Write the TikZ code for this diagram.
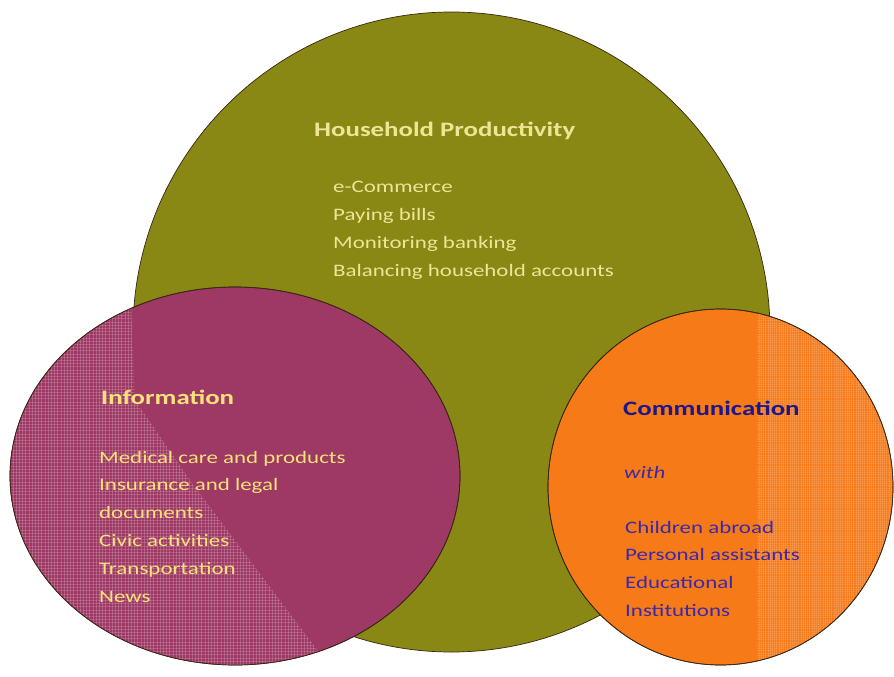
\documentclass[tikz,border=0pt]{standalone}
\usepackage{fontspec}
\setmainfont{Carlito}[FakeStretch=1.31]
\usetikzlibrary{patterns.meta}
\definecolor{olivebg}{RGB}{138,136,20}
\definecolor{plum}{RGB}{158,56,100}
\definecolor{orng}{RGB}{246,122,24}
\definecolor{paleyel}{RGB}{240,228,150}
\definecolor{infoyel}{RGB}{245,226,120}
\definecolor{navy}{RGB}{28,24,140}
\definecolor{itemblue}{RGB}{60,40,170}
\tikzset{
  blob/.style={draw=black!70!brown, line width=0.7pt},
  ttl/.style={anchor=base west, inner sep=0pt, font=\fontsize{20.5}{24}\selectfont\bfseries},
  itm/.style={anchor=base west, inner sep=0pt, font=\fontsize{17.5}{21}\selectfont},
}
\begin{document}
\begin{tikzpicture}[x=1pt,y=-1pt]
\useasboundingbox (0,0) rectangle (894,677);
\fill[white] (0,0) rectangle (894,677);
% household circle
\draw[blob, fill=olivebg] (451.5,332) ellipse [x radius=318.5pt, y radius=320pt];
% information ellipse
\draw[blob, fill=plum] (235,476) ellipse [x radius=225pt, y radius=189pt];
\begin{scope}
  \clip (235,476) ellipse [x radius=225pt, y radius=189pt];
  \fill[pattern={Lines[angle=0,distance=3.2pt,line width=0.4pt]}, pattern color=white!80!plum, opacity=0.22]
    (0,280) -- (130,280) -- (135,400) -- (190,480) -- (340,680) -- (0,680) -- cycle;
  \fill[pattern={Lines[angle=90,distance=3.2pt,line width=0.4pt]}, pattern color=white!80!plum, opacity=0.22]
    (0,280) -- (130,280) -- (135,400) -- (190,480) -- (340,680) -- (0,680) -- cycle;
\end{scope}
\draw[blob] (235,476) ellipse [x radius=225pt, y radius=189pt];
% communication ellipse
\draw[blob, fill=orng] (720.5,487) ellipse [x radius=172.5pt, y radius=178pt];
\begin{scope}
  \clip (720.5,487) ellipse [x radius=172.5pt, y radius=178pt];
  \fill[pattern={Lines[angle=0,distance=2.2pt,line width=0.3pt]}, pattern color=white!70!orng, opacity=0.18]
    (757,300) rectangle (894,677);
  \fill[pattern={Lines[angle=90,distance=2.2pt,line width=0.3pt]}, pattern color=white!70!orng, opacity=0.18]
    (757,300) rectangle (894,677);
\end{scope}
\draw[blob] (720.5,487) ellipse [x radius=172.5pt, y radius=178pt];
% household text
\node[ttl, text=paleyel] (hp) at (314,136) {Household Productivity};
\foreach \t [count=\i] in {e-Commerce, Paying bills, Monitoring banking, Balancing household accounts}
  \node[itm, text=paleyel] (hp\i) at (333,192+28*\i-28) {\t};
% information text
\node[ttl, text=infoyel] (inf) at (101,404) {Information};
\foreach \t [count=\i] in {Medical care and products, Insurance and legal, documents, Civic activities, Transportation, News}
  \node[itm, text=infoyel] (inf\i) at (99,463+27.9*\i-27.9) {\t};
% communication text
\node[ttl, text=navy] (com) at (623,415) {Communication};
\node[itm, text=itemblue, font=\fontsize{17.5}{21}\selectfont\itshape] (with) at (624,478) {with};
\foreach \t [count=\i] in {Children abroad, Personal assistants, Educational, Institutions}
  \node[itm, text=itemblue] (com\i) at (625,533+27.7*\i-27.7) {\t};
\end{tikzpicture}
\end{document}
